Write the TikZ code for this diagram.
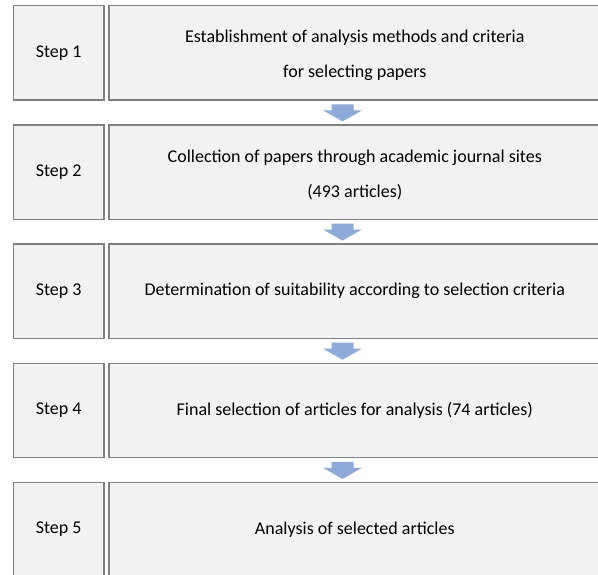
\documentclass[tikz,border=0pt]{standalone}
\usepackage{fontspec}
\setmainfont{Carlito}
\definecolor{boxfill}{RGB}{242,242,242}
\definecolor{boxline}{RGB}{128,128,128}
\definecolor{arrowblue}{RGB}{142,170,219}
\begin{document}
\begin{tikzpicture}[x=1pt,y=-1pt,
  txt/.style={align=center, font=\fontsize{18}{35}\selectfont, inner sep=0pt},
  base/.style={txt, draw=boxline, line width=1.3pt, fill=boxfill,
    minimum height=94.3pt, anchor=north west},
  stepbox/.style={base, minimum width=90.6pt},
  mainbox/.style={base, minimum width=491.7pt}]
\clip (0,0) rectangle (598,574);
\fill[white] (0,0) rectangle (598,574);
\foreach \i/\y in {1/5,2/124.3,3/243.3,4/362.5,5/481.7}{
  \node[stepbox] (s\i) at (12.7,\y) {Step \i};
}
\node[mainbox] (b1) at (108.3,5) {};
\node[txt] (t1) at ([yshift=-2.5pt]b1.center) {Establishment of analysis methods and criteria\\for selecting papers};
\node[mainbox] (b2) at (108.3,124.3) {};
\node[txt] (t2) at ([yshift=-2.5pt]b2.center) {Collection of papers through academic journal sites\\(493 articles)};
\node[mainbox] (b3) at (108.3,243.3) {Determination of suitability according to selection criteria};
\node[mainbox] (b4) at (108.3,362.5) {Final selection of articles for analysis (74 articles)};
\node[mainbox] (b5) at (108.3,481.7) {Analysis of selected articles};
\foreach \a/\b in {1/2,2/3,3/4,4/5}{
  \path (b\a.south) -- (b\b.north) coordinate[midway] (m\a);
}
\foreach \a in {1,2,3,4}{
  \fill[arrowblue] ([shift={(-23.3,-8)}]m\a) -- ([shift={(-1.3,-8)}]m\a)
    -- ([shift={(-1.3,-2)}]m\a) -- ([shift={(7,-2)}]m\a)
    -- ([shift={(-12.3,9)}]m\a) -- ([shift={(-31.6,-2)}]m\a)
    -- ([shift={(-23.3,-2)}]m\a) -- cycle;
}
\end{tikzpicture}
\end{document}
